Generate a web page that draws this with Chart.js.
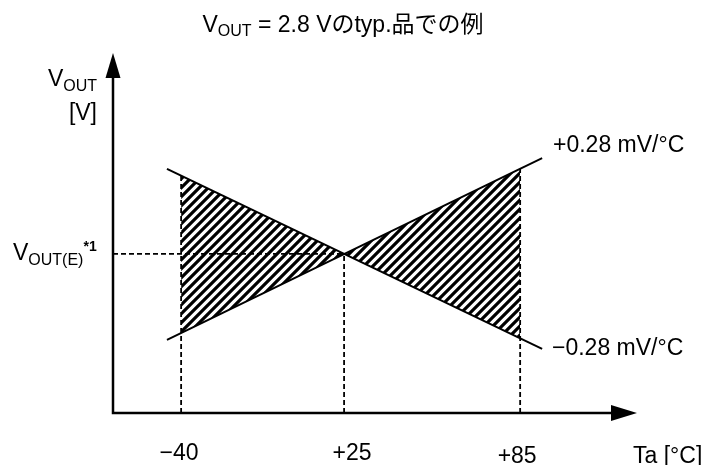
<!DOCTYPE html>
<html>
<head>
<meta charset="utf-8">
<script src="https://cdn.jsdelivr.net/npm/chart.js@4"></script>
<style>
  html, body { margin: 0; padding: 0; background: #fff; }
  #wrap { width: 709px; height: 465px; }
</style>
</head>
<body>
<div id="wrap"><canvas id="c"></canvas></div>
<script>
// Schematic: Vout temperature drift band, positions in arbitrary 0..100 units
const tempLabels = ['\u221240', '+25', '+85'];
const tempPos = [13, 44.1, 77.7];
const vrefLevel = 44.2;

// the two slope lines (end points)
const posLine = [{ x: 10.3, y: 20.3 }, { x: 81.9, y: 70.8 }];
const negLine = [{ x: 10.3, y: 67.8 }, { x: 81.9, y: 17.8 }];

// hatched band edges at -40, +25, +85
const hatchTop = [65.9, 44.2, 67.8];
const hatchBottom = [22.2, 44.2, 20.7];

const slopeLabels = ['+0.28 mV/\u00b0C', '\u22120.28 mV/\u00b0C'];

const FONT = '"Liberation Sans", Arial, "Noto Sans CJK JP", sans-serif';

function hatchPattern() {
  const c = document.createElement('canvas');
  c.width = 9; c.height = 9;
  const g = c.getContext('2d');
  g.strokeStyle = '#000';
  g.lineWidth = 3.2;
  g.beginPath();
  g.moveTo(-2, 11); g.lineTo(11, -2);
  g.moveTo(-2, 2); g.lineTo(2, -2);
  g.moveTo(7, 11); g.lineTo(11, 7);
  g.stroke();
  return g.createPattern(c, 'repeat');
}

const pts = ys => tempPos.map((x, i) => ({ x, y: ys[i] }));
const dashed = data => ({
  data, borderColor: '#000', borderWidth: 1.8, borderDash: [5, 3],
  pointRadius: 0, showLine: true, fill: false
});

// draws text runs (for sub/superscripts)
function runs(ctx, x, y, parts, align) {
  let w = 0;
  parts.forEach(p => { ctx.font = p.f; w += ctx.measureText(p.t).width; });
  let cx = align === 'center' ? x - w / 2 : align === 'right' ? x - w : x;
  parts.forEach(p => {
    ctx.font = p.f;
    ctx.fillText(p.t, cx, y + (p.dy || 0));
    cx += ctx.measureText(p.t).width;
  });
}

const decor = {
  id: 'decor',
  afterDraw(chart) {
    const { ctx, chartArea: a, scales } = chart;
    const L = a.left, B = a.bottom;
    ctx.save();
    // axes with arrows
    ctx.strokeStyle = '#000';
    ctx.fillStyle = '#000';
    ctx.lineWidth = 2.5;
    ctx.beginPath();
    ctx.moveTo(L, a.top + 24); ctx.lineTo(L, B); ctx.lineTo(a.right - 25, B);
    ctx.stroke();
    ctx.beginPath();
    ctx.moveTo(L, a.top); ctx.lineTo(L - 7.5, a.top + 25); ctx.lineTo(L + 7.5, a.top + 25);
    ctx.closePath(); ctx.fill();
    ctx.beginPath();
    ctx.moveTo(a.right, B); ctx.lineTo(a.right - 26, B - 8); ctx.lineTo(a.right - 26, B + 8);
    ctx.closePath(); ctx.fill();

    ctx.textBaseline = 'alphabetic';
    const big = '23px ' + FONT, sub = '16px ' + FONT;
    // title
    runs(ctx, 343, 32, [
      { t: 'V', f: big }, { t: 'OUT', f: sub, dy: 4 },
      { t: ' = 2.8 V\u306etyp.\u54c1\u3067\u306e\u4f8b', f: big }
    ], 'center');
    // y axis label
    runs(ctx, 97, 86, [{ t: 'V', f: big }, { t: 'OUT', f: sub, dy: 5 }], 'right');
    ctx.font = big;
    ctx.textAlign = 'right';
    ctx.fillText('[V]', 97, 120);
    ctx.textAlign = 'left';
    // reference level label
    runs(ctx, 13, 260, [
      { t: 'V', f: big }, { t: 'OUT(E)', f: sub, dy: 5 },
      { t: '*1', f: 'bold 14px ' + FONT, dy: -9 }
    ]);
    // slope labels
    ctx.font = big;
    ctx.fillText(slopeLabels[0], 553, 152);
    ctx.fillText(slopeLabels[1], 552, 355);
    // x tick labels
    const dx = [-2, 8, -3], dy = [0, 0, 3];
    ctx.textAlign = 'center';
    tempLabels.forEach((t, i) => {
      ctx.fillText(t, scales.x.getPixelForValue(tempPos[i]) + dx[i], 460 + dy[i]);
    });
    ctx.textAlign = 'left';
    ctx.fillText('Ta [\u00b0C]', 633, 463);
    ctx.restore();
  }
};

new Chart(document.getElementById('c'), {
  type: 'scatter',
  data: {
    datasets: [
      { data: pts(hatchBottom), borderWidth: 0, pointRadius: 0, showLine: true, fill: false },
      { data: pts(hatchTop), borderWidth: 0, pointRadius: 0, showLine: true,
        fill: '-1', backgroundColor: hatchPattern() },
      { data: posLine, borderColor: '#000', borderWidth: 2, pointRadius: 0, showLine: true },
      { data: negLine, borderColor: '#000', borderWidth: 2, pointRadius: 0, showLine: true },
      dashed([{ x: tempPos[0], y: 0 }, { x: tempPos[0], y: hatchTop[0] }]),
      dashed([{ x: tempPos[1], y: 0 }, { x: tempPos[1], y: vrefLevel }]),
      dashed([{ x: tempPos[2], y: 0 }, { x: tempPos[2], y: hatchTop[2] }]),
      dashed([{ x: 0, y: vrefLevel }, { x: tempPos[1], y: vrefLevel }])
    ]
  },
  options: {
    responsive: true,
    maintainAspectRatio: false,
    animation: false,
    layout: { padding: { left: 113, right: 72, top: 53, bottom: 52 } },
    plugins: { legend: { display: false }, tooltip: { enabled: false } },
    scales: {
      x: { type: 'linear', min: 0, max: 100, display: false },
      y: { type: 'linear', min: 0, max: 100, display: false }
    }
  },
  plugins: [decor]
});
</script>
</body>
</html>
